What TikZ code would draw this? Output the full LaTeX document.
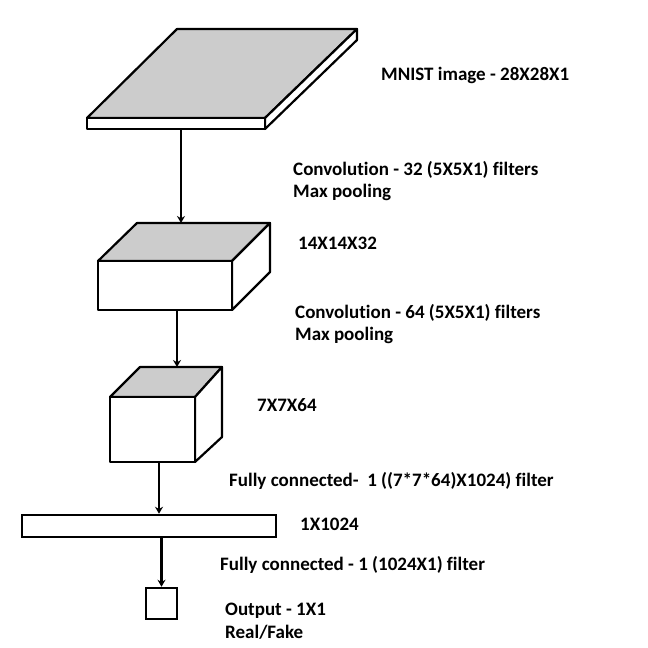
\documentclass[tikz,border=0pt]{standalone}
\usepackage{fontspec}
\setmainfont{Carlito}[Ligatures=NoCommon]
\usetikzlibrary{arrows.meta}
\definecolor{topgrey}{RGB}{204,204,204}

\begin{document}
\begin{tikzpicture}[
  x=1pt,y=-1pt,
  font=\fontsize{19}{22.5}\selectfont\bfseries,
  edge3d/.style={draw,line width=2.2pt,line join=round},
  face/.style={edge3d,fill=white},
  lid/.style={edge3d,fill=topgrey},
  box/.style={draw,line width=2.5pt,fill=white,inner sep=0pt},
  lbl/.style={anchor=west,align=left,inner sep=0pt},
  flow/.style={-{Stealth[length=7pt,width=8pt]},line width=2.8pt},
]
\useasboundingbox (0,0) rectangle (648,648);

% input image slab
\draw[lid]  (87,118) -- (177,29) -- (357,29) -- (265,118) -- cycle;
\draw[face] (265,118) -- (357,29) -- (357,40) -- (265,129) -- cycle;
\draw[face] (87,118) rectangle (265,129);
\coordinate (img) at (181,129);

% first conv block
\draw[lid]  (98,261) -- (137,223) -- (270,223) -- (232,261) -- cycle;
\draw[face] (232,261) -- (270,223) -- (270,272) -- (232,310) -- cycle;
\draw[face] (98,261) rectangle (232,310);
\coordinate (c1top) at (181,223);
\coordinate (c1bot) at (177,310);

% second conv block
\draw[lid]  (110,397) -- (140,367) -- (222,367) -- (195,397) -- cycle;
\draw[face] (195,397) -- (222,367) -- (222,437) -- (195,462) -- cycle;
\draw[face] (110,397) rectangle (195,462);
\coordinate (c2top) at (177,367);
\coordinate (c2bot) at (159,462);

% dense layers
\node[box,minimum width=254,minimum height=22] (fc)  at (149,526) {};
\node[box,minimum width=31,minimum height=31]  (out) at (161.5,603.5) {};

\draw[flow] (img) -- (c1top);
\draw[flow] (c1bot) -- (c2top);
\draw[flow] (c2bot) -- (c2bot |- fc.north);
\draw[flow] (fc.south -| out.north) -- (out.north);

% labels
\node[lbl] (limg) at (381,75)  {MNIST image - 28X28X1};
\node[lbl] (lcv1) at (293,181) {Convolution - 32 (5X5X1) filters\\Max pooling};
\node[lbl] (ls1)  at (298,243) {14X14X32};
\node[lbl] (lcv2) at (295,324) {Convolution - 64 (5X5X1) filters\\Max pooling};
\node[lbl] (ls2)  at (257,405) {7X7X64};
\node[lbl] (lfc1) at (229,481) {Fully connected-\ \ 1 ((7*7*64)X1024) filter};
\node[lbl] (ls3)  at (300,524) {1X1024};
\node[lbl] (lfc2) at (220,565) {Fully connected - 1 (1024X1) filter};
\node[lbl] (lout) at (225,621) {Output - 1X1\\Real/Fake};
\end{tikzpicture}
\end{document}
